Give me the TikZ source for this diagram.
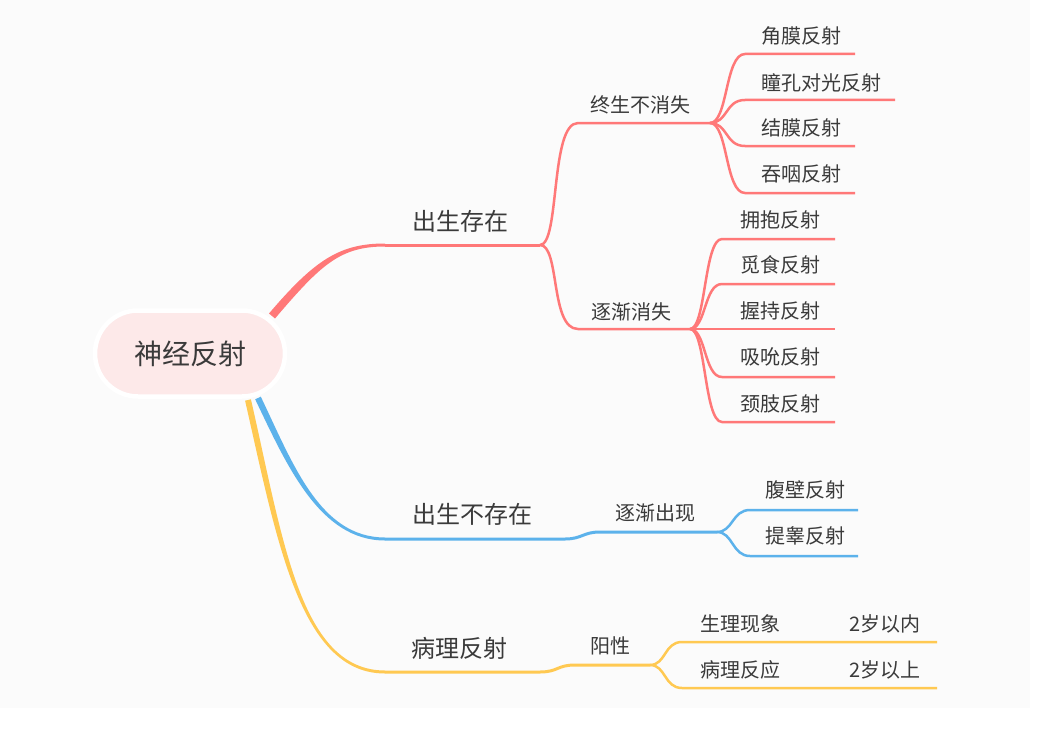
\documentclass[tikz,border=0pt]{standalone}
\usepackage{fontspec}
\setmainfont{Noto Sans CJK SC}
\usetikzlibrary{calc}
\definecolor{cred}{RGB}{255,120,120}
\definecolor{cblue}{RGB}{92,178,235}
\definecolor{cyel}{RGB}{255,201,82}
\definecolor{cpink}{RGB}{253,233,233}
\definecolor{ctext}{RGB}{58,58,58}
\definecolor{cbg}{RGB}{251,251,251}
\begin{document}
\begin{tikzpicture}[x=1pt,y=-1pt,
  lbl/.style={inner sep=0pt, text=ctext, font=\fontsize{20}{20}\selectfont},
  mainlbl/.style={inner sep=0pt, text=ctext, font=\fontsize{24}{24}\selectfont},
  rootbox/.style={draw=white, line width=4.5pt, fill=cpink, rounded corners=43pt,
    minimum width=190pt, minimum height=86pt, inner sep=0pt, text=ctext,
    font=\fontsize{28}{28}\selectfont},
  redl/.style={draw=cred, line width=2.5pt},
  bluel/.style={draw=cblue, line width=2.5pt},
  yell/.style={draw=cyel, line width=2.5pt},
]
\useasboundingbox (0,0) rectangle (1064,741);
\fill[white] (0,0) rectangle (1064,741);
\fill[cbg] (0,0) rectangle (1030,708);

% ---------- coordinates ----------
\coordinate (rA) at (272,316);  \coordinate (rB) at (385,245);  \coordinate (J0) at (540,245);
\coordinate (bA) at (258,398);  \coordinate (bB) at (385,539);  \coordinate (bC) at (565,539);
\coordinate (yA) at (248,400);  \coordinate (yB) at (385,672);  \coordinate (yC) at (540,672);
\coordinate (s1) at (578,123);  \coordinate (J1) at (710,123);
\coordinate (s2) at (578,329);  \coordinate (J2) at (690,329);
\coordinate (s3) at (600,532);  \coordinate (J3) at (717,532);
\coordinate (s4) at (575,665);  \coordinate (J4) at (650,665);

% ---------- root ----------
\node[rootbox] (root) at (190,353.5) {神经反射};

% ---------- main branches (tapered) ----------
\fill[cred] ($(rA)+(-3,-2.5)$) .. controls ($(rA)+(43,-56.5)$) and ($(rB)+(-45,-1.5)$) .. ($(rB)+(0,-1.5)$)
  -- ($(rB)+(0,1.5)$) .. controls ($(rB)+(-45,1.5)$) and ($(rA)+(49,-51.5)$) .. ($(rA)+(3,2.5)$) -- cycle;
\draw[cred, line width=3pt] (rB) -- (J0);

\fill[cblue] ($(bA)+(2.8,-1.3)$) .. controls ($(bA)+(35,66)$) and ($(bB)+(-65,-1.5)$) .. ($(bB)+(0,-1.5)$)
  -- ($(bB)+(0,1.5)$) .. controls ($(bB)+(-65,1.5)$) and ($(bA)+(29,68)$) .. ($(bA)+(-2.8,1.3)$) -- cycle;
\draw[cblue, line width=3pt] (bB) -- (bC) .. controls ($(bC)+(17,0)$) and ($(s3)+(-17,0)$) .. (s3) -- (J3);

\fill[cyel] ($(yA)+(2.9,-0.7)$) .. controls ($(yA)+(35,139)$) and ($(yB)+(-85,-1.5)$) .. ($(yB)+(0,-1.5)$)
  -- ($(yB)+(0,1.5)$) .. controls ($(yB)+(-85,1.5)$) and ($(yA)+(29,141)$) .. ($(yA)+(-2.9,0.7)$) -- cycle;
\draw[cyel, line width=3pt] (yB) -- (yC) .. controls ($(yC)+(18,0)$) and ($(s4)+(-18,0)$) .. (s4) -- (J4);

% ---------- red sub-branches ----------
\draw[redl] (J0) .. controls ($(J0)+(20,0)$) and ($(s1)+(-28,0)$) .. (s1) -- (J1);
\draw[redl] (J0) .. controls ($(J0)+(20,0)$) and ($(s2)+(-28,0)$) .. (s2) -- (J2);

% ---------- leaves ----------
\foreach \n/\y/\e in {a/54/855, b/100/895, c/146/855, d/193/855}{
  \coordinate (L\n s) at (745,\y); \coordinate (L\n e) at (\e,\y);
  \draw[redl] (J1) .. controls ($(J1)+(18,0)$) and ($(L\n s)+(-20,0)$) .. (L\n s) -- (L\n e);
}
\coordinate (Lhs) at (722,329); \coordinate (Lhe) at (835,329);
\draw[redl] (J2) -- (Lhs) -- (Lhe);
\foreach \n/\y in {f/239, g/284, i/377, j/422}{
  \coordinate (L\n s) at (722,\y); \coordinate (L\n e) at (835,\y);
  \draw[redl] (J2) .. controls ($(J2)+(16,0)$) and ($(L\n s)+(-18,0)$) .. (L\n s) -- (L\n e);
}
\foreach \n/\y in {k/510, l/556}{
  \coordinate (L\n s) at (750,\y); \coordinate (L\n e) at (858,\y);
  \draw[bluel] (J3) .. controls ($(J3)+(16,0)$) and ($(L\n s)+(-18,0)$) .. (L\n s) -- (L\n e);
}
\foreach \n/\y in {m/642, n/688}{
  \coordinate (L\n s) at (682,\y); \coordinate (L\n e) at (937,\y);
  \draw[yell] (J4) .. controls ($(J4)+(16,0)$) and ($(L\n s)+(-18,0)$) .. (L\n s) -- (L\n e);
}

% ---------- labels ----------
\node[mainlbl] (m1) at (460,221) {出生存在};
\node[mainlbl] (m2) at (472,514) {出生不存在};
\node[mainlbl] (m3) at (459,648) {病理反射};

\node[lbl] (t1) at (640,105) {终生不消失};
\node[lbl] (t2) at (631,312) {逐渐消失};
\node[lbl] (t3) at (655,513) {逐渐出现};
\node[lbl] (t4) at (610,646) {阳性};

\node[lbl] (a1) at (801,36) {角膜反射};
\node[lbl] (a2) at (821,83) {瞳孔对光反射};
\node[lbl] (a3) at (801,128) {结膜反射};
\node[lbl] (a4) at (801,174) {吞咽反射};

\node[lbl] (b1) at (780,220) {拥抱反射};
\node[lbl] (b2) at (780,265) {觅食反射};
\node[lbl] (b3) at (780,311) {握持反射};
\node[lbl] (b4) at (780,357) {吸吮反射};
\node[lbl] (b5) at (780,404) {颈肢反射};

\node[lbl] (c1) at (805,490) {腹壁反射};
\node[lbl] (c2) at (805,536) {提睾反射};

\node[lbl] (d1) at (740,624) {生理现象};
\node[lbl] (d2) at (885,624) {2岁以内};
\node[lbl] (d3) at (740,670) {病理反应};
\node[lbl] (d4) at (885,670) {2岁以上};
\end{tikzpicture}
\end{document}
